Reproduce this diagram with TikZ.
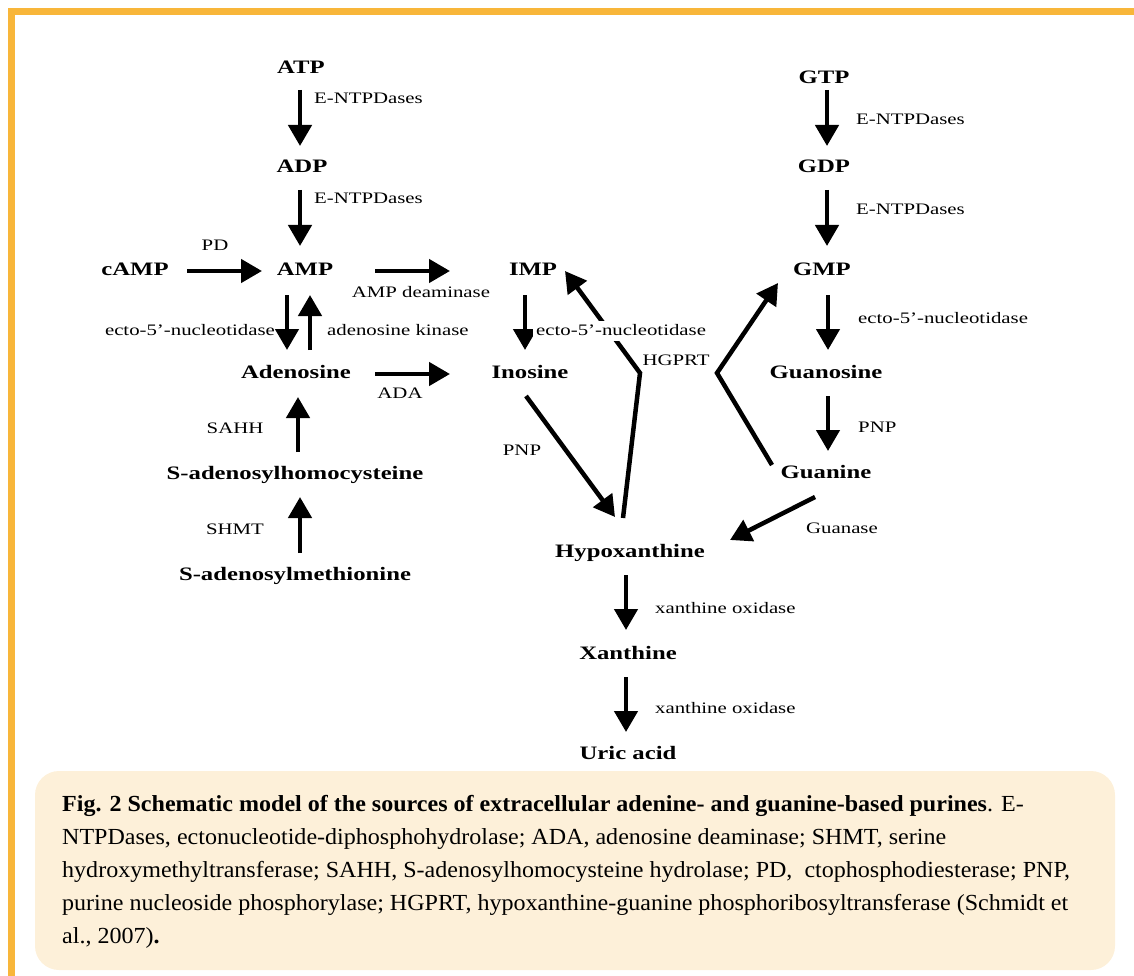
\documentclass[tikz,border=0pt]{standalone}
\usepackage{fontspec}
\setmainfont{Liberation Serif}
\newfontfamily\diagfont{Liberation Serif}[FakeStretch=1.3]
\newfontfamily\capfont{Liberation Serif}[FakeStretch=1.045]
\usetikzlibrary{arrows.meta,calc}
\definecolor{frameorange}{RGB}{248,182,58}
\definecolor{capbeige}{RGB}{253,240,217}
\tikzset{
compound/.style={font=\diagfont\bfseries\fontsize{19}{21}\selectfont, text height=13pt, text depth=4pt, inner sep=0pt},
enzyme/.style={font=\diagfont\fontsize{16}{18}\selectfont, text height=11pt, text depth=3pt, inner sep=1pt},
flow/.style={-{Triangle[width=23pt,length=21pt]}, line width=4.5pt},
}

\begin{document}
\begin{tikzpicture}[x=1pt,y=-1pt]
    \useasboundingbox (0,0) rectangle (1134,976);
    % frame
    \fill[frameorange] (8,8) rectangle (1134,15);
    \fill[frameorange] (8,8) rectangle (15,976);

    % adenine branch
    \node[compound] (ATP) at (301,69) {ATP};
    \node[compound] (ADP) at (302,168) {ADP};
    \node[compound] (cAMP) at (135,271) {cAMP};
    \node[compound] (AMP) at (305,271) {AMP};
    \node[compound] (IMP) at (533,271) {IMP};
    \node[compound] (Adenosine) at (296,374) {Adenosine};
    \node[compound] (Inosine) at (530,374) {Inosine};
    \node[compound] (SAH) at (295,475) {S-adenosylhomocysteine};
    \node[compound] (SAM) at (295,576) {S-adenosylmethionine};

    % guanine branch
    \node[compound] (GTP) at (824,79) {GTP};
    \node[compound] (GDP) at (824,168) {GDP};
    \node[compound] (GMP) at (822,271) {GMP};
    \node[compound] (Guanosine) at (826,374) {Guanosine};
    \node[compound] (Guanine) at (826,474) {Guanine};

    % common end
    \node[compound] (Hypoxanthine) at (630,553) {Hypoxanthine};
    \node[compound] (Xanthine) at (628,655) {Xanthine};
    \node[compound] (Uric) at (628,755) {Uric acid};

    % reactions
    \draw[flow] ($(ATP)+(-1,21)$) -- ($(ADP)+(-2,-22)$);
    \draw[flow] ($(ADP)+(-2,22)$) -- ($(AMP)+(-5,-25)$);
    \draw[flow] ($(cAMP)+(52,0)$) -- ($(AMP)+(-43,0)$);
    \draw[flow] ($(AMP)+(70,0)$) -- ($(IMP)+(-83,0)$);
    \draw[flow] ($(AMP)+(-18,24)$) -- ($(Adenosine)+(-9,-24)$);
    \draw[flow] ($(Adenosine)+(14,-24)$) -- ($(AMP)+(5,24)$);
    \draw[flow] ($(Adenosine)+(79,0)$) -- ($(Inosine)+(-80,0)$);
    \draw[flow] ($(IMP)+(-8,24)$) -- ($(Inosine)+(-5,-24)$);
    \draw[flow] ($(SAH)+(3,-23)$) -- ($(Adenosine)+(2,23)$);
    \draw[flow] ($(SAM)+(5,-23)$) -- ($(SAH)+(5,22)$);
    \draw[flow] ($(GTP)+(3,11)$) -- ($(GDP)+(3,-22)$);
    \draw[flow] ($(GDP)+(3,22)$) -- ($(GMP)+(5,-25)$);
    \draw[flow] ($(GMP)+(6,24)$) -- ($(Guanosine)+(2,-24)$);
    \draw[flow] ($(Guanosine)+(2,22)$) -- ($(Guanine)+(2,-23)$);
    \draw[flow] ($(Inosine)+(-4,22)$) -- ($(Hypoxanthine)+(-15,-36)$);
    \draw[flow] ($(Guanine)+(-11,23)$) -- ($(Hypoxanthine)+(100,-13)$);
    \draw[flow] ($(Hypoxanthine)+(-4,22)$) -- ($(Xanthine)+(-2,-25)$);
    \draw[flow] ($(Xanthine)+(-2,22)$) -- ($(Uric)+(-2,-23)$);

    % salvage (HGPRT)
    \coordinate (hgL) at (640,373);
    \coordinate (hgR) at (717,373);
    \draw[flow] ($(Hypoxanthine)+(-7,-35)$) -- (hgL) -- ($(IMP)+(32,0)$);
    \draw[flow] ($(Guanine)+(-54,-9)$) -- (hgR) -- ($(GMP)+(-44,12)$);

    % enzymes
    \node[enzyme, anchor=west] (entpdA) at (313,100) {E-NTPDases};
    \node[enzyme, anchor=west] (entpdB) at (313,200) {E-NTPDases};
    \node[enzyme] (pd) at (215,247) {PD};
    \node[enzyme] (ampdeam) at (421,293) {AMP deaminase};
    \node[enzyme, anchor=east] (ectoA) at (276,331) {ecto-5’-nucleotidase};
    \node[enzyme, anchor=west] (adok) at (326,331) {adenosine kinase};
    \node[enzyme] (ada) at (400,394) {ADA};
    \node[enzyme] (sahh) at (235,429) {SAHH};
    \node[enzyme] (shmt) at (235,530) {SHMT};
    \node[enzyme, anchor=west, fill=white, inner sep=3pt] (ectoB) at (533,331) {ecto-5’-nucleotidase};
    \node[enzyme] (hgprt) at (676,361) {HGPRT};
    \node[enzyme] (pnpA) at (522,451) {PNP};
    \node[enzyme, anchor=west] (entpdC) at (855,121) {E-NTPDases};
    \node[enzyme, anchor=west] (entpdD) at (855,211) {E-NTPDases};
    \node[enzyme, anchor=west] (ectoC) at (857,319) {ecto-5’-nucleotidase};
    \node[enzyme, anchor=west] (pnpB) at (857,428) {PNP};
    \node[enzyme] (guanase) at (842,529) {Guanase};
    \node[enzyme, anchor=west] (xoA) at (654,609) {xanthine oxidase};
    \node[enzyme, anchor=west] (xoB) at (654,709) {xanthine oxidase};

    % caption
    \fill[capbeige, rounded corners=24pt] (35,771) rectangle (1115,970);
    \node[anchor=north west, inner sep=0pt, align=left, font=\capfont\fontsize{23}{33}\selectfont] (caption) at (62,795)
        {\textbf{Fig. 2 Schematic model of the sources of extracellular adenine- and guanine-based purines}. E-\\
        NTPDases, ectonucleotide-diphosphohydrolase; ADA, adenosine deaminase; SHMT, serine\\
        hydroxymethyltransferase; SAHH, S-adenosylhomocysteine hydrolase; PD,~ ctophosphodiesterase; PNP,\\
        purine nucleoside phosphorylase; HGPRT, hypoxanthine-guanine phosphoribosyltransferase (Schmidt et\\
        al., 2007)\textbf{.}};
\end{tikzpicture}
\end{document}
